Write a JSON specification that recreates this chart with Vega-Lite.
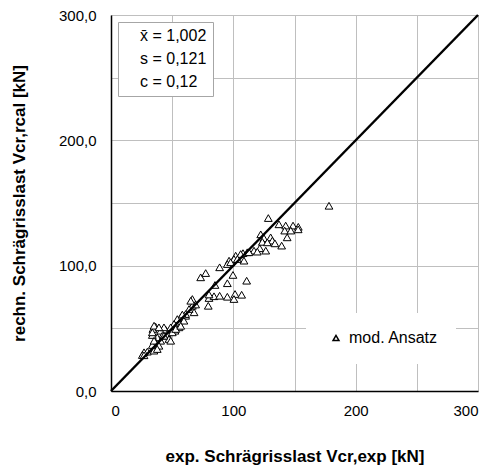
{
  "$schema": "https://vega.github.io/schema/vega-lite/v6.json",
  "width": 367,
  "height": 376,
  "padding": {"left": 10, "top": 8, "right": 10, "bottom": 5},
  "config": {
    "font": "Liberation Sans",
    "view": {"stroke": "#bfbfbf", "strokeWidth": 1},
    "axis": {
      "grid": true, "gridColor": "#bfbfbf", "gridWidth": 1,
      "domainColor": "black", "domainWidth": 1.5,
      "ticks": false, "labelFontSize": 15, "labelColor": "black",
      "titleFontSize": 17, "titleFontWeight": "bold", "titleColor": "black"
    }
  },
  "datasets": {
    "pts": [
      {"exp": 128.6, "rcal": 138, "series": "mod. Ansatz"},
      {"exp": 137.3, "rcal": 133, "series": "mod. Ansatz"},
      {"exp": 142.8, "rcal": 132, "series": "mod. Ansatz"},
      {"exp": 148.8, "rcal": 132, "series": "mod. Ansatz"},
      {"exp": 153.1, "rcal": 131, "series": "mod. Ansatz"},
      {"exp": 142, "rcal": 128, "series": "mod. Ansatz"},
      {"exp": 147, "rcal": 128, "series": "mod. Ansatz"},
      {"exp": 153, "rcal": 129, "series": "mod. Ansatz"},
      {"exp": 144, "rcal": 122.6, "series": "mod. Ansatz"},
      {"exp": 139.5, "rcal": 116, "series": "mod. Ansatz"},
      {"exp": 122.4, "rcal": 125, "series": "mod. Ansatz"},
      {"exp": 125, "rcal": 122, "series": "mod. Ansatz"},
      {"exp": 123.7, "rcal": 119, "series": "mod. Ansatz"},
      {"exp": 130.5, "rcal": 122.6, "series": "mod. Ansatz"},
      {"exp": 131.9, "rcal": 120, "series": "mod. Ansatz"},
      {"exp": 134, "rcal": 117.8, "series": "mod. Ansatz"},
      {"exp": 127.8, "rcal": 118.6, "series": "mod. Ansatz"},
      {"exp": 126.5, "rcal": 112, "series": "mod. Ansatz"},
      {"exp": 121.6, "rcal": 113.9, "series": "mod. Ansatz"},
      {"exp": 116.9, "rcal": 112, "series": "mod. Ansatz"},
      {"exp": 111.4, "rcal": 110.7, "series": "mod. Ansatz"},
      {"exp": 107.9, "rcal": 110, "series": "mod. Ansatz"},
      {"exp": 119.6, "rcal": 111.2, "series": "mod. Ansatz"},
      {"exp": 112.8, "rcal": 110.7, "series": "mod. Ansatz"},
      {"exp": 101.9, "rcal": 108, "series": "mod. Ansatz"},
      {"exp": 106, "rcal": 109.3, "series": "mod. Ansatz"},
      {"exp": 100.5, "rcal": 105.3, "series": "mod. Ansatz"},
      {"exp": 96.5, "rcal": 104, "series": "mod. Ansatz"},
      {"exp": 95.1, "rcal": 101.3, "series": "mod. Ansatz"},
      {"exp": 108.7, "rcal": 104, "series": "mod. Ansatz"},
      {"exp": 103.3, "rcal": 105.3, "series": "mod. Ansatz"},
      {"exp": 97.8, "rcal": 102.7, "series": "mod. Ansatz"},
      {"exp": 178.2, "rcal": 147.8, "series": "mod. Ansatz"},
      {"exp": 88.8, "rcal": 98.7, "series": "mod. Ansatz"},
      {"exp": 73.3, "rcal": 90.7, "series": "mod. Ansatz"},
      {"exp": 77.4, "rcal": 94.1, "series": "mod. Ansatz"},
      {"exp": 99.7, "rcal": 92.6, "series": "mod. Ansatz"},
      {"exp": 110.9, "rcal": 88, "series": "mod. Ansatz"},
      {"exp": 85, "rcal": 84.6, "series": "mod. Ansatz"},
      {"exp": 95.1, "rcal": 86, "series": "mod. Ansatz"},
      {"exp": 66.5, "rcal": 73.4, "series": "mod. Ansatz"},
      {"exp": 80.1, "rcal": 74.2, "series": "mod. Ansatz"},
      {"exp": 84.2, "rcal": 75.6, "series": "mod. Ansatz"},
      {"exp": 88.8, "rcal": 76, "series": "mod. Ansatz"},
      {"exp": 95.1, "rcal": 75.2, "series": "mod. Ansatz"},
      {"exp": 101.4, "rcal": 77.4, "series": "mod. Ansatz"},
      {"exp": 106.8, "rcal": 76.8, "series": "mod. Ansatz"},
      {"exp": 100.5, "rcal": 73.4, "series": "mod. Ansatz"},
      {"exp": 79.5, "rcal": 68, "series": "mod. Ansatz"},
      {"exp": 66.5, "rcal": 68, "series": "mod. Ansatz"},
      {"exp": 67.9, "rcal": 62.8, "series": "mod. Ansatz"},
      {"exp": 63.8, "rcal": 65.4, "series": "mod. Ansatz"},
      {"exp": 65.2, "rcal": 72, "series": "mod. Ansatz"},
      {"exp": 69.2, "rcal": 69, "series": "mod. Ansatz"},
      {"exp": 80.1, "rcal": 77, "series": "mod. Ansatz"},
      {"exp": 61, "rcal": 60, "series": "mod. Ansatz"},
      {"exp": 57, "rcal": 58.8, "series": "mod. Ansatz"},
      {"exp": 54.2, "rcal": 57.4, "series": "mod. Ansatz"},
      {"exp": 55.6, "rcal": 54.3, "series": "mod. Ansatz"},
      {"exp": 51.5, "rcal": 53.5, "series": "mod. Ansatz"},
      {"exp": 59.6, "rcal": 56.1, "series": "mod. Ansatz"},
      {"exp": 48.8, "rcal": 50.8, "series": "mod. Ansatz"},
      {"exp": 44.7, "rcal": 48.9, "series": "mod. Ansatz"},
      {"exp": 40.6, "rcal": 48.1, "series": "mod. Ansatz"},
      {"exp": 36.5, "rcal": 51.3, "series": "mod. Ansatz"},
      {"exp": 34.3, "rcal": 49.5, "series": "mod. Ansatz"},
      {"exp": 52.3, "rcal": 48.1, "series": "mod. Ansatz"},
      {"exp": 55.6, "rcal": 50.8, "series": "mod. Ansatz"},
      {"exp": 46, "rcal": 45.5, "series": "mod. Ansatz"},
      {"exp": 41.9, "rcal": 44.1, "series": "mod. Ansatz"},
      {"exp": 37.8, "rcal": 42.8, "series": "mod. Ansatz"},
      {"exp": 33.8, "rcal": 44.7, "series": "mod. Ansatz"},
      {"exp": 47.4, "rcal": 41.5, "series": "mod. Ansatz"},
      {"exp": 40.6, "rcal": 40.1, "series": "mod. Ansatz"},
      {"exp": 36.5, "rcal": 38.9, "series": "mod. Ansatz"},
      {"exp": 33.8, "rcal": 36.7, "series": "mod. Ansatz"},
      {"exp": 39.2, "rcal": 36.1, "series": "mod. Ansatz"},
      {"exp": 35.1, "rcal": 32.2, "series": "mod. Ansatz"},
      {"exp": 29.7, "rcal": 31.4, "series": "mod. Ansatz"},
      {"exp": 27, "rcal": 30.9, "series": "mod. Ansatz"},
      {"exp": 25.6, "rcal": 28.7, "series": "mod. Ansatz"},
      {"exp": 61, "rcal": 61.4, "series": "mod. Ansatz"},
      {"exp": 50.1, "rcal": 46.8, "series": "mod. Ansatz"},
      {"exp": 48.8, "rcal": 40.1, "series": "mod. Ansatz"},
      {"exp": 43.3, "rcal": 50.8, "series": "mod. Ansatz"},
      {"exp": 35.2, "rcal": 52.1, "series": "mod. Ansatz"},
      {"exp": 39.2, "rcal": 50.8, "series": "mod. Ansatz"},
      {"exp": 33.8, "rcal": 46.8, "series": "mod. Ansatz"},
      {"exp": 43.3, "rcal": 44.1, "series": "mod. Ansatz"},
      {"exp": 35.2, "rcal": 40.1, "series": "mod. Ansatz"},
      {"exp": 37.8, "rcal": 33.5, "series": "mod. Ansatz"},
      {"exp": 27, "rcal": 28.5, "series": "mod. Ansatz"},
      {"exp": 58.3, "rcal": 61, "series": "mod. Ansatz"},
      {"exp": 52.9, "rcal": 49.5, "series": "mod. Ansatz"},
      {"exp": 57, "rcal": 52, "series": "mod. Ansatz"}
    ],
    "diag": [{"v": 0}, {"v": 300}],
    "stats": [
      {"stat": "x̄ = 1,002"},
      {"stat": "s = 0,121"},
      {"stat": "c = 0,12"}
    ]
  },
  "layer": [
    {
      "data": {"name": "pts"},
      "mark": {"type": "point", "filled": true, "fill": "white", "stroke": "black", "strokeWidth": 1, "size": 60, "opacity": 1},
      "encoding": {
        "x": {
          "field": "exp", "type": "quantitative",
          "scale": {"domain": [0, 300], "nice": false},
          "axis": {
            "title": "exp. Schrägrisslast Vcr,exp [kN]",
            "values": [0, 50, 100, 150, 200, 250, 300],
            "labelExpr": "datum.value % 100 == 0 ? datum.label : ''",
            "labelPadding": 12, "titlePadding": 30
          }
        },
        "y": {
          "field": "rcal", "type": "quantitative",
          "scale": {"domain": [0, 300], "nice": false},
          "axis": {
            "title": "rechn. Schrägrisslast Vcr,rcal [kN]",
            "values": [0, 50, 100, 150, 200, 250, 300],
            "labelExpr": "datum.value % 100 == 0 ? replace(format(datum.value, '.1f'), '.', ',') : ''",
            "labelPadding": 15, "titlePadding": 30
          }
        },
        "shape": {
          "field": "series", "type": "nominal",
          "scale": {"domain": ["mod. Ansatz"], "range": ["triangle-up"]},
          "legend": {
            "title": null, "orient": "none", "legendX": 195, "legendY": 298,
            "padding": 17, "fillColor": "white", "strokeColor": "white",
            "symbolSize": 35, "symbolOffset": 5, "labelOffset": 5,
            "labelFontSize": 16, "labelColor": "black",
            "encode": {
              "symbols": {
                "update": {
                  "fill": {"value": "white"},
                  "stroke": {"value": "black"},
                  "strokeWidth": {"value": 1},
                  "opacity": {"value": 1}
                }
              }
            }
          }
        }
      }
    },
    {
      "data": {"name": "diag"},
      "mark": {"type": "line", "color": "black", "strokeWidth": 2.5},
      "encoding": {
        "x": {"field": "v", "type": "quantitative"},
        "y": {"field": "v", "type": "quantitative"}
      }
    },
    {
      "data": {"name": "stats"},
      "mark": {"type": "point", "opacity": 0},
      "encoding": {
        "x": {"datum": 0, "type": "quantitative"},
        "y": {"datum": 0, "type": "quantitative"},
        "color": {
          "field": "stat", "type": "nominal",
          "scale": {"domain": ["x̄ = 1,002", "s = 0,121", "c = 0,12"], "range": ["black", "black", "black"]},
          "legend": {
            "title": null, "orient": "none", "legendX": 7, "legendY": 7,
            "padding": 6, "fillColor": "white", "strokeColor": "#a6a6a6",
            "symbolSize": 0, "symbolOpacity": 0, "symbolStrokeWidth": 0, "labelOffset": 0,
            "labelFontSize": 16, "labelColor": "black", "rowPadding": 7,
            "labelExpr": "datum.label + '\u00a0\u00a0\u00a0\u00a0\u00a0\u00a0\u00a0\u00a0\u00a0\u00a0\u00a0\u00a0\u00a0\u00a0'"
          }
        }
      }
    }
  ]
}
